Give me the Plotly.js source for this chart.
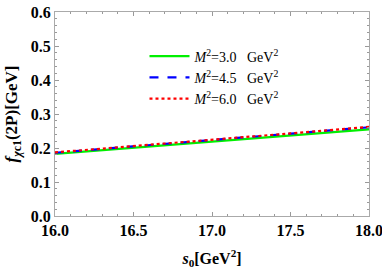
<!DOCTYPE html>
<html><head><meta charset="utf-8">
<script src="https://cdn.plot.ly/plotly-3.0.1.min.js"></script>
<style>body{margin:0;padding:0;background:#fff}#plot{width:382px;height:273px}</style>
</head><body><div id="plot"></div>
<script>
const s0 = [16.0, 16.5, 17.0, 17.5, 18.0];
const f_M3 = [0.183, 0.201, 0.219, 0.237, 0.255];
const f_M45 = [0.186, 0.205, 0.224, 0.243, 0.261];
const f_M6 = [0.187, 0.205, 0.224, 0.243, 0.262];
const names = ['<i>M</i><sup>2</sup>=3.0   GeV<sup>2</sup>','<i>M</i><sup>2</sup>=4.5   GeV<sup>2</sup>','<i>M</i><sup>2</sup>=6.0   GeV<sup>2</sup>'];
const font = 'Liberation Serif, Times New Roman, serif';
const traces = [
 {x:s0,y:f_M3,name:names[0],mode:'lines',line:{color:'#00f000',width:2.2,dash:'solid'}},
 {x:s0,y:f_M45,name:names[1],mode:'lines',line:{color:'#0000ff',width:2.2,dash:'dash'}},
 {x:s0,y:f_M6,name:names[2],mode:'lines',line:{color:'#ff0000',width:2.2,dash:'dot'}}
];
const axisCommon = {showgrid:false,zeroline:false,showline:true,linecolor:'#aaaaaa',linewidth:1,mirror:'allticks',ticks:'inside',ticklen:4,tickcolor:'#999999',ticklabeloverflow:'allow',tickfont:{family:font,size:16,color:'#000',weight:'bold'}};
const layout = {
 width:382,height:273,margin:{l:55,r:13,t:12,b:57},
 paper_bgcolor:'#fff',plot_bgcolor:'#fff',
 font:{family:font,color:'#000'},
 xaxis:Object.assign({},axisCommon,{range:[16,18],dtick:0.5,tick0:16,tickformat:'.1f',
   minor:{dtick:0.1,ticks:'inside',ticklen:2,tickcolor:'#999999'},
   title:{text:'<i>s</i><sub>0</sub>[GeV<sup>2</sup>]',font:{family:font,size:16,weight:'bold'},standoff:14}}),
 yaxis:Object.assign({},axisCommon,{range:[0,0.6],dtick:0.1,tickformat:'.1f',
   minor:{dtick:0.02,ticks:'inside',ticklen:2,tickcolor:'#999999'},
   title:{text:'<i>f</i><sub><i>χ</i>c1</sub>(2P)[GeV]',font:{family:font,size:17,weight:'bold'},standoff:8}}),
 showlegend:true,
 legend:{x:0.285,y:0.86,xanchor:'left',yanchor:'top',bgcolor:'rgba(0,0,0,0)',font:{family:font,size:14},tracegroupgap:0,itemwidth:40}
};
Plotly.newPlot('plot',traces,layout,{displayModeBar:false,staticPlot:true});
</script></body></html>
